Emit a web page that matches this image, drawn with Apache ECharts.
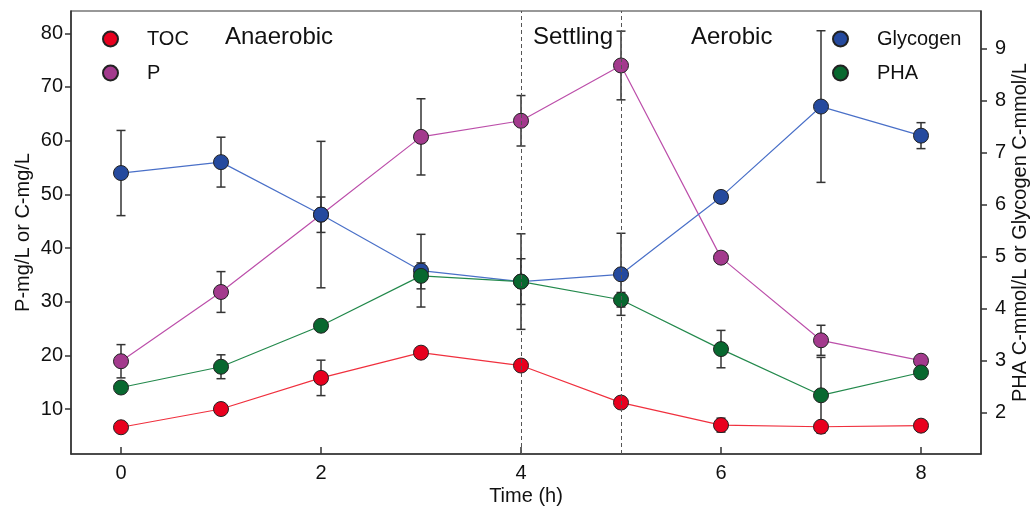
<!DOCTYPE html>
<html>
<head>
<meta charset="utf-8">
<script src="https://cdn.jsdelivr.net/npm/echarts@6/dist/echarts.min.js"></script>
<style>
  html, body { margin: 0; padding: 0; background: #fff; }
  #chart { width: 1032px; height: 507px; }
</style>
</head>
<body>
<div id="chart"></div>
<script>
// time points (h)
const hours = [0, 1, 2, 3, 4, 5, 6, 7, 8]
const xTicks = [0, 2, 4, 6, 8]
const leftTicks = [10, 20, 30, 40, 50, 60, 70, 80]
const rightTicks = [2, 3, 4, 5, 6, 7, 8, 9]
const phaseLines = [4, 5]

// left axis (mg/L)
const toc = [6.6, 10.0, 15.8, 20.5, 18.1, 11.2, 7.0, 6.7, 6.9]
const tocErr = [0, 0, 3.3, 0, 0, 0, 1.3, 0, 0]
const phos = [18.9, 31.8, 46.2, 60.7, 63.7, 74.0, 38.2, 22.8, 19.0]
const phosErr = [3.1, 3.8, 3.3, 7.1, 4.7, 6.4, 0, 2.8, 0]

// right axis (C-mmol/L)
const glycogen = [6.61, 6.82, 5.81, 4.73, 4.52, 4.66, 6.15, 7.89, 7.33]
const glycogenErr = [0.82, 0.48, 1.41, 0.7, 0.92, 0.79, 0, 1.46, 0.25]
const pha = [2.48, 2.88, 3.67, 4.63, 4.52, 4.17, 3.22, 2.33, 2.77]
const phaErr = [0, 0.23, 0, 0.25, 0.44, 0.14, 0.36, 0.73, 0]

const FONT = 'Liberation Sans, Arial, sans-serif'
const AXIS = '#333'

const chart = echarts.init(document.getElementById('chart'))

const lineSeries = (name, values, yAxisIndex, fill, stroke) => ({
  name,
  type: 'line',
  yAxisIndex,
  data: hours.map((h, i) => [h, values[i]]),
  symbol: 'circle',
  symbolSize: 15,
  z: 3,
  lineStyle: { color: stroke, width: 1.2 },
  itemStyle: { color: fill, borderColor: '#222', borderWidth: 1 },
  emphasis: { disabled: true }
})

const errorSeries = (name, values, errs, yAxisIndex) => ({
  name,
  type: 'custom',
  yAxisIndex,
  z: 2,
  silent: true,
  data: hours.map((h, i) => [h, values[i], errs[i]]),
  encode: { x: 0, y: 1 },
  renderItem: (params, api) => {
    const e = api.value(2)
    if (!e) return
    const x = api.value(0), y = api.value(1)
    const top = api.coord([x, y + e])
    const bot = api.coord([x, y - e])
    const w = 4.5
    const style = { stroke: AXIS, lineWidth: 1.5 }
    return {
      type: 'group',
      children: [
        { type: 'line', shape: { x1: top[0], y1: top[1], x2: bot[0], y2: bot[1] }, style },
        { type: 'line', shape: { x1: top[0] - w, y1: top[1], x2: top[0] + w, y2: top[1] }, style },
        { type: 'line', shape: { x1: bot[0] - w, y1: bot[1], x2: bot[0] + w, y2: bot[1] }, style }
      ]
    }
  }
})

const legendBase = {
  orient: 'vertical',
  icon: 'circle',
  itemWidth: 15,
  itemHeight: 15,
  itemGap: 14,
  padding: 0,
  top: 29,
  textStyle: { fontFamily: FONT, fontSize: 20, color: '#111', lineHeight: 15, padding: [0, 0, 0, 24] }
}

const phaseText = (text, x) => ({
  type: 'text',
  x, y: 37,
  style: { text, font: '24px ' + FONT, fill: '#111', verticalAlign: 'middle' }
})

const option = {
  animation: false,
  grid: {
    left: 71, right: 51, top: 11, bottom: 53,
    outerBoundsMode: 'none', containLabel: false,
    show: true, borderColor: AXIS, borderWidth: 1.2
  },
  legend: [
    { ...legendBase, left: 102, data: ['TOC', 'P'] },
    { ...legendBase, left: 832, data: ['Glycogen', 'PHA'] }
  ],
  graphic: [phaseText('Anaerobic', 225), phaseText('Settling', 533), phaseText('Aerobic', 691)],
  xAxis: {
    type: 'value',
    min: -0.5,
    max: 8.6,
    name: 'Time (h)',
    nameLocation: 'middle',
    nameGap: 32,
    nameMoveOverlap: false,
    nameTextStyle: { fontFamily: FONT, fontSize: 20, color: '#111' },
    axisLine: { onZero: false, lineStyle: { color: AXIS, width: 1.5 } },
    axisTick: { inside: true, length: 7, customValues: xTicks, lineStyle: { color: AXIS, width: 1.5 } },
    axisLabel: { customValues: xTicks, margin: 9, fontFamily: FONT, fontSize: 20, color: '#111' },
    splitLine: { show: false }
  },
  yAxis: [
    {
      type: 'value',
      min: 1.62,
      max: 84.15,
      name: 'P-mg/L or C-mg/L',
      nameLocation: 'middle',
      nameGap: 38,
      nameMoveOverlap: false,
      nameTextStyle: { fontFamily: FONT, fontSize: 20, color: '#111' },
      axisLine: { show: true, onZero: false, lineStyle: { color: AXIS, width: 1.5 } },
      axisTick: { show: true, length: 6, customValues: leftTicks, lineStyle: { color: AXIS, width: 1.5 } },
      axisLabel: { customValues: leftTicks, margin: 8, fontFamily: FONT, fontSize: 20, color: '#111' },
      splitLine: { show: false }
    },
    {
      type: 'value',
      position: 'right',
      min: 1.2,
      max: 9.73,
      name: 'PHA C-mmol/L or Glycogen C-mmol/L',
      nameLocation: 'middle',
      nameRotate: 90,
      nameGap: 29,
      nameMoveOverlap: false,
      nameTextStyle: { fontFamily: FONT, fontSize: 20, color: '#111' },
      axisLine: { show: true, onZero: false, lineStyle: { color: AXIS, width: 1.5 } },
      axisTick: { show: true, length: 6, customValues: rightTicks, lineStyle: { color: AXIS, width: 1.5 } },
      axisLabel: { customValues: rightTicks, margin: 14, fontFamily: FONT, fontSize: 20, color: '#111' },
      splitLine: { show: false }
    }
  ],
  series: [
    errorSeries('TOC err', toc, tocErr, 0),
    errorSeries('P err', phos, phosErr, 0),
    errorSeries('Glycogen err', glycogen, glycogenErr, 1),
    errorSeries('PHA err', pha, phaErr, 1),
    {
      ...lineSeries('TOC', toc, 0, '#E8001E', '#F0303E'),
      markLine: {
        silent: true,
        symbol: 'none',
        label: { show: false },
        lineStyle: { color: '#555', type: [4, 3], width: 1 },
        data: phaseLines.map(v => ({ xAxis: v }))
      }
    },
    lineSeries('P', phos, 0, '#A33A8D', '#BC4FAA'),
    lineSeries('Glycogen', glycogen, 1, '#254A9E', '#4A70C8'),
    lineSeries('PHA', pha, 1, '#08682F', '#23894C')
  ]
}

chart.setOption(option)
window.addEventListener('resize', () => chart.resize())
</script>
</body>
</html>
